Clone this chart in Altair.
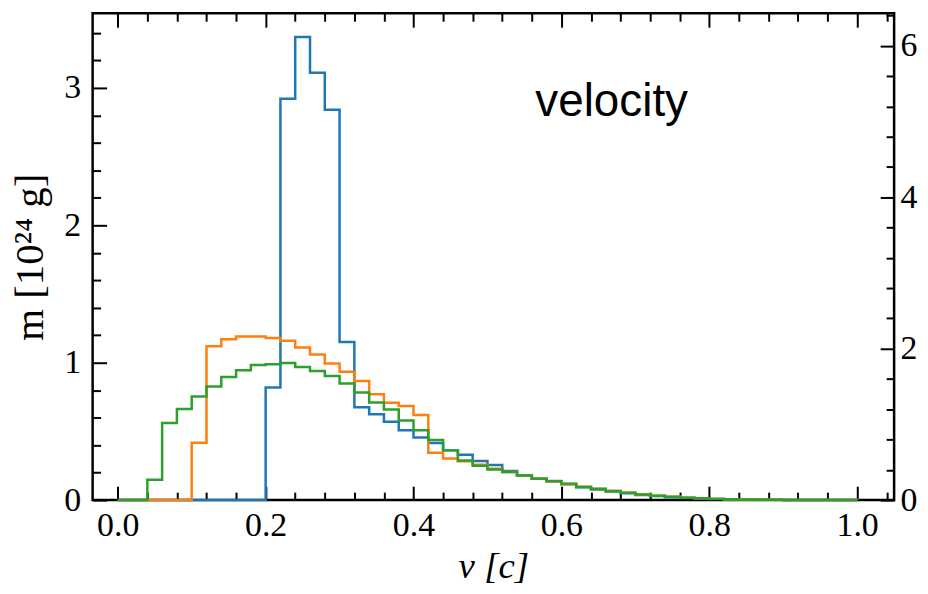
import altair as alt
import pandas as pd

# bin edges of the step histograms (width 0.02 in v [c])
edges = [round(0.02 * i, 2) for i in range(51)]

blue = [0, 0, 0, 0, 0, 0, 0, 0, 0, 0,
        0.82, 2.92, 3.37, 3.11, 2.84, 1.15, 0.675, 0.625, 0.57, 0.508,
        0.455, 0.415, 0.362, 0.33, 0.284, 0.255, 0.212, 0.18, 0.155, 0.135,
        0.115, 0.093, 0.078, 0.063, 0.05, 0.038, 0.029, 0.021, 0.015, 0.011,
        0.008, 0.005, 0.004, 0.003, 0.002, 0.0012, 0.0008, 0.0005, 0.0003, 0.0002]
orange = [0, 0, 0, 0, 0, 0.417, 1.12, 1.17, 1.19, 1.19,
          1.18, 1.16, 1.11, 1.06, 0.995, 0.935, 0.867, 0.771, 0.708, 0.685,
          0.62, 0.345, 0.302, 0.282, 0.258, 0.228, 0.205, 0.178, 0.156, 0.138,
          0.118, 0.097, 0.081, 0.066, 0.053, 0.041, 0.031, 0.024, 0.018, 0.013,
          0.009, 0.006, 0.004, 0.003, 0.002, 0.0015, 0.001, 0.0007, 0.0004, 0.0002]
green = [0, 0, 0.149, 0.561, 0.663, 0.754, 0.827, 0.896, 0.945, 0.983,
         0.988, 0.998, 0.969, 0.94, 0.904, 0.848, 0.783, 0.711, 0.66, 0.58,
         0.508, 0.437, 0.362, 0.289, 0.25, 0.222, 0.205, 0.18, 0.156, 0.14,
         0.12, 0.096, 0.082, 0.067, 0.053, 0.041, 0.031, 0.024, 0.018, 0.013,
         0.009, 0.006, 0.0045, 0.003, 0.002, 0.0015, 0.001, 0.0007, 0.0004, 0.0002]

series_names = ["s1", "s2", "s3"]
series_colors = ["#1f77b4", "#ff7f0e", "#2ca02c"]

x_major = [0.0, 0.2, 0.4, 0.6, 0.8, 1.0]
x_minor = [0.04, 0.08, 0.12, 0.16, 0.24, 0.28, 0.32, 0.36, 0.44, 0.48, 0.52, 0.56,
           0.64, 0.68, 0.72, 0.76, 0.84, 0.88, 0.92, 0.96, 1.04]
yl_major = [0, 1, 2, 3]
yl_minor = [0.2, 0.4, 0.6, 0.8, 1.2, 1.4, 1.6, 1.8, 2.2, 2.4, 2.6, 2.8, 3.2, 3.4]
yr_major = [0, 2, 4, 6]
yr_minor = [0.4, 0.8, 1.2, 1.6, 2.4, 2.8, 3.2, 3.6, 4.4, 4.8, 5.2, 5.6, 6.4]

annot_text = ["velocity"]
annot_x = [0.668]
annot_y = [2.9]

rows = []
for name, vals in zip(series_names, [blue, orange, green]):
    for i, v in enumerate(vals):
        rows.append({"series": name, "v": edges[i], "m": v, "i": i})
    rows.append({"series": name, "v": edges[-1], "m": vals[-1], "i": 50})
    rows.append({"series": name, "v": edges[-1], "m": 0.0, "i": 51})
df = pd.DataFrame(rows)
annot = pd.DataFrame({"t": annot_text, "v": annot_x, "m": annot_y})

SERIF = "Liberation Serif"
xs = alt.Scale(domain=[-0.034, 1.05], nice=False, zero=False)
yls = alt.Scale(domain=[0, 3.543], nice=False)
yrs = alt.Scale(domain=[0, 6.43], nice=False)

MAJ, MIN = 14, 8


def ax(orient, values, size, labels=False, title=None, fmt=None, pad=6, tpad=8,
       tstyle="italic", tsize=37):
    kw = dict(orient=orient, values=values, tickSize=size, offset=-size, domain=False,
              grid=False, tickColor="black", tickWidth=2, labels=labels,
              labelFlush=False, labelOverlap=False, labelBound=False)
    if labels:
        kw.update(labelFont=SERIF, labelFontSize=34, labelColor="black", labelPadding=pad)
        if fmt:
            kw["format"] = fmt
    if title:
        kw.update(title=title, titleFont=SERIF, titleFontSize=tsize, titleFontWeight="normal",
                  titleFontStyle=tstyle, titleColor="black", titlePadding=tpad)
    else:
        kw["title"] = None
    return alt.Axis(**kw)


base = alt.Chart(df)
lines = base.mark_line(interpolate="step-after", strokeWidth=2.5).encode(
    x=alt.X("v:Q", scale=xs, axis=ax("bottom", x_major, MAJ, labels=True, title="v [c]",
                                     fmt=".1f", pad=9, tpad=6)),
    y=alt.Y("m:Q", scale=yls, axis=ax("left", yl_major, MAJ, labels=True, title="m [10²⁴ g]",
                                     pad=12, tpad=12, tstyle="normal", tsize=41)),
    color=alt.Color("series:N", scale=alt.Scale(domain=series_names, range=series_colors), legend=None),
    order="i:Q",
)
minor_bl = base.mark_line(opacity=0).encode(
    x=alt.X("v:Q", scale=xs, axis=ax("bottom", x_minor, MIN)),
    y=alt.Y("m:Q", scale=yls, axis=ax("left", yl_minor, MIN)),
    detail="series:N", order="i:Q",
)
major_tr = base.mark_line(opacity=0).encode(
    x=alt.X("v:Q", scale=xs, axis=ax("top", x_major, MAJ)),
    y=alt.Y("m:Q", scale=yrs, axis=ax("right", yr_major, MAJ, labels=True, pad=6)),
    detail="series:N", order="i:Q",
)
minor_tr = base.mark_line(opacity=0).encode(
    x=alt.X("v:Q", scale=xs, axis=ax("top", x_minor, MIN)),
    y=alt.Y("m:Q", scale=yrs, axis=ax("right", yr_minor, MIN)),
    detail="series:N", order="i:Q",
)
label = alt.Chart(annot).mark_text(font="Liberation Sans", fontSize=46, color="black",
                                   align="center", baseline="middle").encode(
    x=alt.X("v:Q", scale=xs, axis=None),
    y=alt.Y("m:Q", scale=yls, axis=None),
    text="t:N",
)

chart = alt.layer(lines, minor_bl, major_tr, minor_tr, label).resolve_scale(
    y="independent"
).resolve_axis(
    x="independent", y="independent"
).properties(
    width=805, height=489,
    autosize=alt.AutoSizeParams(type="none"),
    padding={"left": 85, "top": 4, "right": 26, "bottom": 88},
    background="white",
).configure_view(stroke="black", strokeWidth=2.5)

chart.save("out.html", embed_options={"renderer": "svg", "actions": False})
